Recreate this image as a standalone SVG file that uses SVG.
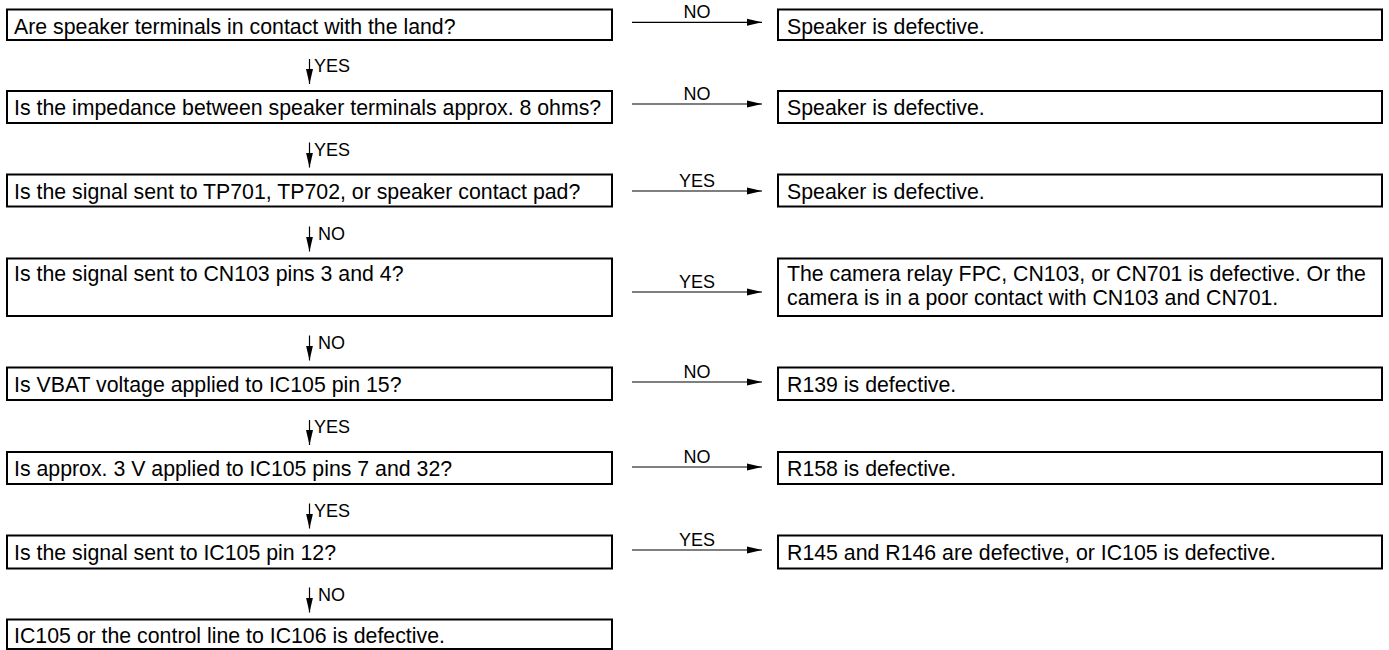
<svg xmlns="http://www.w3.org/2000/svg" width="1389" height="650" viewBox="0 0 1389 650">
<style>
rect.b{fill:#fff;stroke:#000;stroke-width:2}
text{font-family:"Liberation Sans",Arial,sans-serif;fill:#000}
.t{font-size:21.3px}
.l{font-size:18px}
.c{font-size:18px;text-anchor:middle}
line.a{stroke:#000;stroke-width:1.2;marker-end:url(#ah)}
</style>
<defs>
<marker id="ah" markerUnits="userSpaceOnUse" markerWidth="16" markerHeight="8" refX="15" refY="4" orient="auto"><path d="M0,0.5 L15,4 L0,7.5 z" fill="#000"/></marker>
</defs>
<rect width="1389" height="650" fill="#fff"/>
<g id="q1"><rect class="b" x="7" y="9.5" width="605" height="30.5"/><text class="t" x="14" y="33.5">Are speaker terminals in contact with the land?</text></g>
<g id="q2"><rect class="b" x="7" y="91" width="605" height="32"/><text class="t" x="14" y="115">Is the impedance between speaker terminals approx. 8 ohms?</text></g>
<g id="q3"><rect class="b" x="7" y="174.5" width="605" height="32"/><text class="t" x="14" y="198.5">Is the signal sent to TP701, TP702, or speaker contact pad?</text></g>
<g id="q4"><rect class="b" x="7" y="258.5" width="605" height="57.5"/><text class="t" x="14" y="280.5">Is the signal sent to CN103 pins 3 and 4?</text></g>
<g id="q5"><rect class="b" x="7" y="367.5" width="605" height="32.5"/><text class="t" x="14" y="391.5">Is VBAT voltage applied to IC105 pin 15?</text></g>
<g id="q6"><rect class="b" x="7" y="452" width="605" height="32"/><text class="t" x="14" y="476">Is approx. 3 V applied to IC105 pins 7 and 32?</text></g>
<g id="q7"><rect class="b" x="7" y="535.5" width="605" height="33"/><text class="t" x="14" y="559.5">Is the signal sent to IC105 pin 12?</text></g>
<g id="q8"><rect class="b" x="7" y="619.5" width="605" height="29.5"/><text class="t" x="14" y="643">IC105 or the control line to IC106 is defective.</text></g>
<g id="r1"><rect class="b" x="778" y="9.5" width="604" height="30.5"/><text class="t" x="787" y="33.5">Speaker is defective.</text></g>
<g id="r2"><rect class="b" x="778" y="91" width="604" height="32"/><text class="t" x="787" y="115">Speaker is defective.</text></g>
<g id="r3"><rect class="b" x="778" y="174.5" width="604" height="32"/><text class="t" x="787" y="198.5">Speaker is defective.</text></g>
<g id="r4"><rect class="b" x="778" y="258.5" width="604" height="57.5"/><text class="t" x="787" y="280.5">The camera relay FPC, CN103, or CN701 is defective. Or the</text><text class="t" x="787" y="304.5">camera is in a poor contact with CN103 and CN701.</text></g>
<g id="r5"><rect class="b" x="778" y="367.5" width="604" height="32.5"/><text class="t" x="787" y="391.5">R139 is defective.</text></g>
<g id="r6"><rect class="b" x="778" y="452" width="604" height="32"/><text class="t" x="787" y="476">R158 is defective.</text></g>
<g id="r7"><rect class="b" x="778" y="535.5" width="604" height="33"/><text class="t" x="787" y="559.5">R145 and R146 are defective, or IC105 is defective.</text></g>
<g id="connectors">
<line class="a" x1="632" y1="22.3" x2="762" y2="22.3"/><text class="c" x="697" y="18.3">NO</text>
<line class="a" x1="632" y1="104" x2="762" y2="104"/><text class="c" x="697" y="100">NO</text>
<line class="a" x1="632" y1="191" x2="762" y2="191"/><text class="c" x="697" y="187">YES</text>
<line class="a" x1="632" y1="292" x2="762" y2="292"/><text class="c" x="697" y="288">YES</text>
<line class="a" x1="632" y1="382" x2="762" y2="382"/><text class="c" x="697" y="378">NO</text>
<line class="a" x1="632" y1="467" x2="762" y2="467"/><text class="c" x="697" y="463">NO</text>
<line class="a" x1="632" y1="550" x2="762" y2="550"/><text class="c" x="697" y="546">YES</text>
<line class="a" x1="309.5" y1="59" x2="309.5" y2="84"/><text class="l" x="314" y="72">YES</text>
<line class="a" x1="309.5" y1="142.5" x2="309.5" y2="167.5"/><text class="l" x="314" y="155.5">YES</text>
<line class="a" x1="309.5" y1="226.5" x2="309.5" y2="251.5"/><text class="l" x="318" y="240">NO</text>
<line class="a" x1="309.5" y1="335.5" x2="309.5" y2="360.5"/><text class="l" x="318" y="349">NO</text>
<line class="a" x1="309.5" y1="420" x2="309.5" y2="445"/><text class="l" x="314" y="433">YES</text>
<line class="a" x1="309.5" y1="503.5" x2="309.5" y2="528.5"/><text class="l" x="314" y="517">YES</text>
<line class="a" x1="309.5" y1="587.5" x2="309.5" y2="612.5"/><text class="l" x="318" y="601">NO</text>
</g>
</svg>
